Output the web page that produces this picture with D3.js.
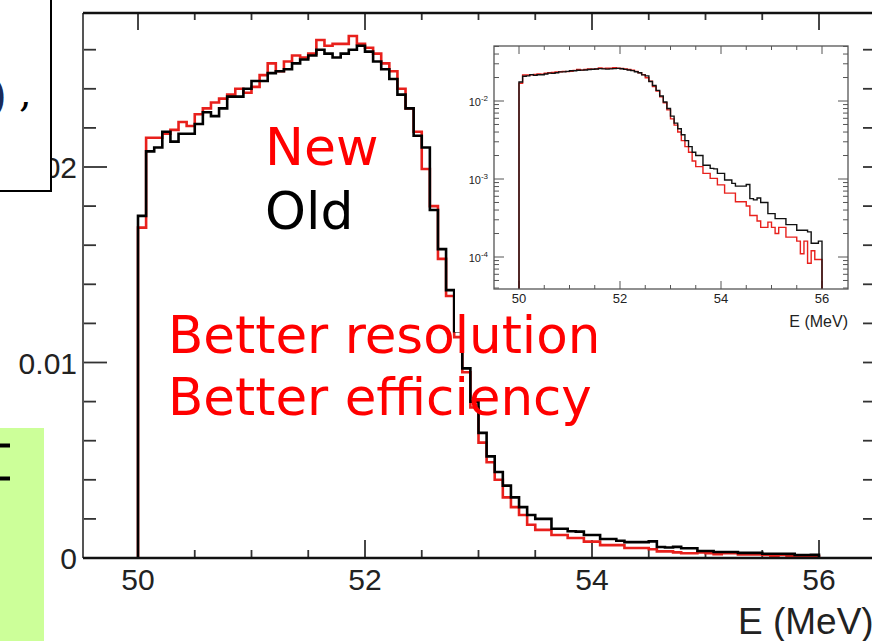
<!DOCTYPE html>
<html>
<head>
<meta charset="utf-8">
<script src="https://cdn.jsdelivr.net/npm/d3@7"></script>
<style>
body{margin:0;background:#fff;overflow:hidden}
</style>
</head>
<body>
<div id="chart"></div>
<script>
var width = 872, height = 641;

// 84 bins between 50 and 56 MeV
var binLo = 50, binHi = 56;
var oldVals = [0.0175,0.0208,0.0210,0.0218,0.0213,0.0217,0.0217,0.0222,0.0228,0.0226,
  0.0230,0.0236,0.0236,0.0240,0.0244,0.0244,0.0248,0.0249,0.0250,0.0253,
  0.0255,0.0257,0.0260,0.0258,0.0256,0.0258,0.0260,0.0262,0.0259,0.0254,
  0.0250,0.0245,0.0237,0.0230,0.0216,0.0210,0.0178,0.0158,0.0137,0.0116,
  0.0097,0.0080,0.0064,0.0052,0.0044,0.0037,0.0031,0.0026,0.0022,0.0020,
  0.0020,0.0015,0.0015,0.00137,0.00135,0.00118,0.00118,0.00097,0.00097,0.00088,
  0.00081,0.00081,0.00081,0.00085,0.00056,0.00054,0.00057,0.00050,0.00050,0.00036,
  0.00036,0.00031,0.00031,0.00031,0.00026,0.00026,0.00026,0.00022,0.00022,0.00022,
  0.00021,0.00015,0.00015,0.00016];
var newVals = [0.0169,0.0215,0.0215,0.0217,0.0219,0.0223,0.0221,0.0227,0.0230,0.0233,
  0.0235,0.0237,0.0240,0.0238,0.0241,0.0247,0.0253,0.0249,0.0254,0.0257,
  0.0256,0.0258,0.0265,0.0262,0.0263,0.0263,0.0267,0.0263,0.0261,0.0258,
  0.0253,0.0249,0.0240,0.0230,0.0218,0.0199,0.0180,0.0153,0.0134,0.0113,
  0.0095,0.0077,0.0059,0.0049,0.0040,0.0031,0.0026,0.0022,0.0017,0.00144,
  0.00144,0.00118,0.00118,0.00102,0.00102,0.00084,0.00084,0.00066,0.00066,0.00066,
  0.00051,0.00051,0.00051,0.00045,0.00034,0.00034,0.00029,0.00024,0.00024,0.00028,
  0.00024,0.00020,0.00024,0.00024,0.00018,0.00018,0.00018,0.00016,0.00011,0.00016,
  0.000083,0.00012,0.000093,0.000093];

var xMajor = [50, 52, 54, 56];
var xLabels = ["50", "52", "54", "56"];
var yMainMajor = [0, 0.01, 0.02];
var yMainLabels = ["0", "0.01", "0.02"];
var insetDecades = [-4, -3, -2];
var insetDecLabels = ["-4", "-3", "-2"];
var axisTitle = "E (MeV)";
var noteNew = "New", noteOld = "Old";
var noteLines = ["Better resolution", "Better efficiency"];

var svg = d3.select("#chart").append("svg").attr("width", width).attr("height", height);

// main frame geometry
var L = 83, R = 876, T = 13, B = 558;
var x = d3.scaleLinear().domain([50, 56]).range([138, 819]);
var y = d3.scaleLinear().domain([0, 0.01]).range([B, 362.5]);

function stepPoints(vals, xs, ys, base) {
  var w = (binHi - binLo) / vals.length, pts = [[xs(binLo), base]];
  vals.forEach(function(v, i) {
    pts.push([xs(binLo + i * w), ys(v)]);
    pts.push([xs(binLo + (i + 1) * w), ys(v)]);
  });
  pts.push([xs(binHi), base]);
  return pts;
}
var line = d3.line();

// x ticks every 0.5, top and bottom
var xt = d3.range(49.5, 56.51, 0.5);
xt.forEach(function(t) {
  var major = Math.abs(t - Math.round(t / 2) * 2) < 1e-6;
  var px = x(t);
  if (px < L + 2 || px > R - 2) return;
  svg.append("line").attr("x1", px).attr("x2", px).attr("y1", B).attr("y2", B - (major ? 18 : 8))
    .attr("stroke", "#333").attr("stroke-width", 1.8);
  svg.append("line").attr("x1", px).attr("x2", px).attr("y1", T).attr("y2", T + (major ? 17 : 7))
    .attr("stroke", "#333").attr("stroke-width", 1.8);
});
// y ticks every 0.002, left and right
d3.range(0.002, 0.0271, 0.002).forEach(function(t) {
  var major = Math.abs(t * 100 - Math.round(t * 100)) < 1e-6;
  svg.append("line").attr("x1", L).attr("x2", L + (major ? 24 : 13)).attr("y1", y(t)).attr("y2", y(t))
    .attr("stroke", "#333").attr("stroke-width", 1.8);
  svg.append("line").attr("x1", R).attr("x2", R - 13).attr("y1", y(t)).attr("y2", y(t))
    .attr("stroke", "#333").attr("stroke-width", 1.8);
});

// histograms
svg.append("path").attr("d", line(stepPoints(newVals, x, y, B)))
  .attr("fill", "none").attr("stroke", "#e8201c").attr("stroke-width", 2.6);
svg.append("path").attr("d", line(stepPoints(oldVals, x, y, B)))
  .attr("fill", "none").attr("stroke", "#000").attr("stroke-width", 2.6);

// frame
svg.append("line").attr("x1", L).attr("x2", L).attr("y1", T).attr("y2", B).attr("stroke", "#555").attr("stroke-width", 2);
svg.append("line").attr("x1", L).attr("x2", R).attr("y1", T).attr("y2", T).attr("stroke", "#111").attr("stroke-width", 2.5);
svg.append("line").attr("x1", L).attr("x2", R).attr("y1", B).attr("y2", B).attr("stroke", "#111").attr("stroke-width", 2.5);

// tick labels
svg.selectAll("xlab").data(xMajor).enter().append("text")
  .attr("x", function(d) { return x(d); }).attr("y", 590)
  .attr("text-anchor", "middle").style("font-family", "Liberation Sans, Arial, sans-serif")
  .style("font-size", "30px").attr("fill", "#222")
  .text(function(d, i) { return xLabels[i]; });
svg.selectAll("ylab").data(yMainMajor).enter().append("text")
  .attr("x", 77).attr("y", function(d) { return y(d) + 11; })
  .attr("text-anchor", "end").style("font-family", "Liberation Sans, Arial, sans-serif")
  .style("font-size", "30px").attr("fill", "#222")
  .text(function(d, i) { return yMainLabels[i]; });
svg.append("text").attr("x", 738).attr("y", 634)
  .style("font-family", "Liberation Sans, Arial, sans-serif").style("font-size", "37px").attr("fill", "#222")
  .text(axisTitle);

// inset (log scale)
var iL = 494, iR = 848, iT = 46, iB = 289;
var xi = d3.scaleLinear().domain([50, 56]).range([519, 822]);
var yi = d3.scaleLog().domain([1e-4, 1e-2]).range([257, 101]);
var gi = svg.append("g");
gi.append("rect").attr("x", 455).attr("y", 36).attr("width", 400).attr("height", 296).attr("fill", "#fff");

xt.forEach(function(t) {
  var major = Math.abs(t - Math.round(t / 2) * 2) < 1e-6;
  var px = xi(t);
  if (px < iL + 1 || px > iR - 1) return;
  gi.append("line").attr("x1", px).attr("x2", px).attr("y1", iB).attr("y2", iB - (major ? 8 : 4)).attr("stroke", "#555");
  gi.append("line").attr("x1", px).attr("x2", px).attr("y1", iT).attr("y2", iT + (major ? 8 : 4)).attr("stroke", "#555");
});
var lo = yi.invert(iB), hi = yi.invert(iT);
[-5, -4, -3, -2, -1].forEach(function(d) {
  d3.range(1, 10).forEach(function(m) {
    var v = m * Math.pow(10, d);
    if (v < lo || v > hi) return;
    var len = m === 1 ? 10 : 5;
    gi.append("line").attr("x1", iL).attr("x2", iL + len).attr("y1", yi(v)).attr("y2", yi(v)).attr("stroke", "#555");
    gi.append("line").attr("x1", iR).attr("x2", iR - len).attr("y1", yi(v)).attr("y2", yi(v)).attr("stroke", "#555");
  });
});

gi.append("path").attr("d", line(stepPoints(newVals, xi, yi, iB)))
  .attr("fill", "none").attr("stroke", "#e8201c").attr("stroke-width", 1.4);
gi.append("path").attr("d", line(stepPoints(oldVals, xi, yi, iB)))
  .attr("fill", "none").attr("stroke", "#111").attr("stroke-width", 1.4);
gi.append("rect").attr("x", iL).attr("y", iT).attr("width", iR - iL).attr("height", iB - iT)
  .attr("fill", "none").attr("stroke", "#555").attr("stroke-width", 1.3);

gi.selectAll("ixlab").data(xMajor).enter().append("text")
  .attr("x", function(d) { return xi(d); }).attr("y", 303)
  .attr("text-anchor", "middle").style("font-family", "Liberation Sans, Arial, sans-serif")
  .style("font-size", "13px").attr("fill", "#222")
  .text(function(d, i) { return xLabels[i]; });
var yl = gi.selectAll("iylab").data(insetDecades).enter().append("text")
  .attr("x", 488).attr("y", function(d) { return yi(Math.pow(10, d)) + 5; })
  .attr("text-anchor", "end").style("font-family", "Liberation Sans, Arial, sans-serif")
  .style("font-size", "11px").attr("fill", "#222");
yl.append("tspan").text("10");
yl.append("tspan").attr("dy", -5).style("font-size", "8px").text(function(d, i) { return insetDecLabels[i]; });
gi.append("text").attr("x", iR).attr("y", 327).attr("text-anchor", "end")
  .style("font-family", "Liberation Sans, Arial, sans-serif").style("font-size", "16px").attr("fill", "#222")
  .text(axisTitle);

// slide notes
var noteFont = "DejaVu Sans, Verdana, sans-serif";
svg.append("text").attr("x", 265).attr("y", 165).style("font-family", noteFont).style("font-size", "52px")
  .attr("fill", "#ff0000").text(noteNew);
svg.append("text").attr("x", 265).attr("y", 229).style("font-family", noteFont).style("font-size", "52px")
  .attr("fill", "#000").text(noteOld);
svg.selectAll("note").data(noteLines).enter().append("text")
  .attr("x", 168).attr("y", function(d, i) { return 353 + i * 62; })
  .style("font-family", noteFont).style("font-size", "51.5px").attr("fill", "#ff0000")
  .text(function(d) { return d; });

// cut-off slide boxes on the left
svg.append("rect").attr("x", -3).attr("y", -3).attr("width", 54).attr("height", 194)
  .attr("fill", "#fff").attr("stroke", "#000").attr("stroke-width", 2);
svg.append("text").attr("x", 7).attr("y", 111).attr("text-anchor", "end")
  .style("font-family", "DejaVu Serif, serif").style("font-size", "45px").attr("fill", "#1a2a5a").text(")");
svg.append("text").attr("x", 19).attr("y", 106)
  .style("font-family", "DejaVu Serif, serif").style("font-size", "40px").attr("fill", "#000").text(",");
svg.append("rect").attr("x", 0).attr("y", 428).attr("width", 44).attr("height", 213).attr("fill", "#ccff99");
[445.5, 478.5].forEach(function(yy) {
  svg.append("line").attr("x1", 0).attr("x2", 10).attr("y1", yy).attr("y2", yy)
    .attr("stroke", "#000").attr("stroke-width", 4);
});
</script>
</body>
</html>
